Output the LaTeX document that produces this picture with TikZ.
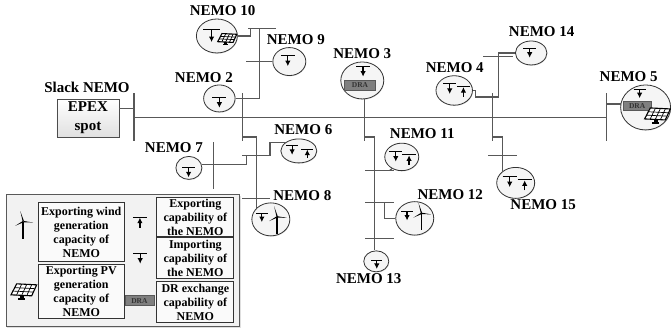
\documentclass[tikz,border=0pt]{standalone}
\usepackage{fontspec}
\setmainfont{Liberation Serif}
\usetikzlibrary{arrows.meta, shapes.geometric, shadows, calc}
\definecolor{linegray}{HTML}{585858}
\definecolor{tagray}{HTML}{7F7F7F}

\begin{document}
\begin{tikzpicture}[
  x=1pt, y=-1pt,
  nemo/.style={ellipse, draw=black!80, fill=black!4, line width=0.8pt, inner sep=0pt, drop shadow={shadow xshift=0.5pt, shadow yshift=-0.8pt, opacity=0.25}},
  lbl/.style={font=\fontsize{15}{17}\selectfont\bfseries, text=black, inner sep=0pt},
  vbus/.style={rectangle, fill=linegray, inner sep=0pt, minimum width=1.2pt},
  hbus/.style={rectangle, fill=linegray, inner sep=0pt, minimum height=1.2pt},
  link/.style={draw=linegray, line width=1.2pt},
  legbox/.style={rectangle, draw=black!80, fill=black!2, line width=0.9pt, inner sep=0pt, align=center, minimum width=77pt, font=\fontsize{12}{14}\selectfont\bfseries},
  dra/.style={rectangle, draw=black!65, fill=tagray, line width=0.8pt, inner sep=0pt, minimum width=29pt, minimum height=10pt, font=\fontsize{7.5}{8}\selectfont\bfseries, text=black!80},
  impo/.pic={
    \draw[black, line width=1pt] (-7,0) -- (7,0);
    \draw[black, line width=1.2pt, -{Latex[length=5.5pt, width=5.5pt]}] (0,0) -- (0,10.5);
  },
  expo/.pic={
    \draw[black, line width=1pt] (-7,0) -- (7,0);
    \draw[black, line width=1.2pt, -{Latex[length=5.5pt, width=5.5pt]}] (0,10.5) -- (0,0.5);
  },
  wind/.pic={
    \draw[black, line width=1.9pt] (0,0) -- (0,17);
    \fill[black] (-0.6,0) -- (-3,-10.5) -- (0.7,-0.4) -- cycle;
    \fill[black] (0,-0.7) -- (9.8,1) -- (0,0.7) -- cycle;
    \fill[black] (-0.4,-0.6) -- (-8,4.2) -- (0.4,0.6) -- cycle;
  },
  panel/.pic={
    \draw[black, line width=1.1pt, fill=white] (-7.3,-6) -- (12.7,-5) -- (7.7,6) -- (-13,5) -- cycle;
    \draw[black, line width=0.7pt] (-9.8,-2.2) -- (10.6,-1.2) (-11.5,1.2) -- (9,2.2);
    \draw[black, line width=0.7pt] (-2.2,-5.8) -- (-7.5,5.3) (2.8,-5.5) -- (-2.3,5.5) (7.8,-5.3) -- (2.8,5.8);
    \fill[black] (-4,6) rectangle (0,9.5);
    \fill[black] (-5.5,8.5) rectangle (1.5,10);
  }
]
  % Legend
  \node[rectangle, draw=black!65, fill=black!5, line width=0.9pt, minimum width=234pt, minimum height=132pt, drop shadow={shadow xshift=0.8pt, shadow yshift=-0.8pt, opacity=0.25}] (legend) at (123,261) {};
  \node[legbox, minimum width=85.5pt, minimum height=59pt] (legwind) at (81.3,232.5) {Exporting wind\\generation\\capacity of\\NEMO};
  \node[legbox, minimum width=85.5pt, minimum height=54pt] (legpv) at (81.3,292) {Exporting PV\\generation\\capacity of\\NEMO};
  \node[legbox, minimum height=39pt] (legexp) at (195.5,217.5) {Exporting\\capability of\\the NEMO};
  \node[legbox, minimum height=41pt] (legimp) at (195.5,258.5) {Importing\\capability of\\the NEMO};
  \node[legbox, minimum height=41pt] (legdr) at (195.5,302.5) {DR exchange\\capability of\\NEMO};
  \node[dra] (legdra) at (139.5,301) {DRA};
  \pic at (23.3,221.7) {wind};
  \pic at (24,290) {panel};
  \pic at (140,217.3) {expo};
  \pic at (140.3,253.3) {impo};

  % Nodes
  \node[rectangle, draw=black!70, top color=white, bottom color=black!12, line width=0.8pt, minimum width=62pt, minimum height=38pt, inner sep=0pt, align=center, font=\fontsize{15}{19}\selectfont\bfseries, drop shadow={shadow xshift=0.8pt, shadow yshift=-0.8pt, opacity=0.25}] (epex) at (88,118) {EPEX\\spot};

  \node[vbus, minimum height=48pt] (bus1) at (134,117.5) {};
  \node[vbus, minimum height=48pt] (bus2) at (243,117.5) {};
  \node[vbus, minimum height=24pt] (bus3) at (365,129.5) {};
  \node[vbus, minimum height=48pt] (bus4) at (493,117.5) {};
  \node[vbus, minimum height=48pt] (bus5) at (607,117.5) {};
  \node[vbus, minimum height=47pt] (bus7) at (214,165.5) {};
  \node[hbus, minimum width=28pt] (bus10) at (262,28.5) {};
  \node[hbus, minimum width=18pt] (bus9) at (255,61.6) {};
  \node[hbus, minimum width=28pt] (bus6) at (256,155.6) {};
  \node[hbus, minimum width=28pt] (bus8) at (256,199) {};
  \node[hbus, minimum width=29pt] (bus11) at (379.5,170.5) {};
  \node[hbus, minimum width=29pt] (bus12) at (379.5,203) {};
  \node[hbus, minimum width=29pt] (bus13) at (379.5,239) {};
  \node[hbus, minimum width=30pt] (bus14) at (498,56.6) {};
  \node[hbus, minimum width=29pt] (bus15) at (502.5,155.6) {};

  \coordinate (t10) at (260,28.5);
  \coordinate (a10) at (251,28.5);
  \coordinate (j8) at (256.5,137);
  \coordinate (j8b) at (256.5,208.5);
  \coordinate (j6) at (286,142.5);
  \coordinate (j7) at (247,155.6);
  \coordinate (j3) at (374.5,137);
  \coordinate (j11) at (390,170.5);
  \coordinate (j12) at (385,203);
  \coordinate (j4) at (475.7,97);
  \coordinate (j14) at (499,53);
  \coordinate (j15) at (503,137);
  \coordinate (j15b) at (503,172);

  \node[nemo, minimum width=41pt, minimum height=34pt] (nemo10) at (217,36) {};
  \node[nemo, minimum width=33pt, minimum height=28pt] (nemo9) at (289.5,61.6) {};
  \node[nemo, minimum width=31.5pt, minimum height=27pt] (nemo2) at (219.5,98.5) {};
  \node[nemo, minimum width=36pt, minimum height=24pt] (nemo6) at (299,151) {};
  \node[nemo, minimum width=26pt, minimum height=23pt] (nemo7) at (189,168) {};
  \node[nemo, minimum width=43pt, minimum height=37pt] (nemo3) at (362.5,80.5) {};
  \node[nemo, minimum width=36.5pt, minimum height=29.5pt] (nemo4) at (454.5,90.5) {};
  \node[nemo, minimum width=31.5pt, minimum height=24pt] (nemo14) at (531.5,53) {};
  \node[nemo, minimum width=50pt, minimum height=45pt] (nemo5) at (646,107.5) {};
  \node[nemo, minimum width=34pt, minimum height=27.5pt] (nemo11) at (402,157) {};
  \node[nemo, minimum width=38pt, minimum height=33.5pt] (nemo12) at (415,218.5) {};
  \node[nemo, minimum width=25pt, minimum height=21pt] (nemo13) at (376.5,261.5) {};
  \node[nemo, minimum width=38pt, minimum height=31pt] (nemo15) at (516,183) {};
  \node[nemo, minimum width=38pt, minimum height=33pt] (nemo8) at (271,219.5) {};

  % Labels
  \node[lbl] (lblslack) at (87,87.5) {Slack NEMO};
  \node[lbl] (lbl10) at (222.7,11) {NEMO 10};
  \node[lbl] (lbl9) at (296,39.5) {NEMO 9};
  \node[lbl] (lbl2) at (204,77.5) {NEMO 2};
  \node[lbl] (lbl7) at (174,148) {NEMO 7};
  \node[lbl] (lbl6) at (303.5,130) {NEMO 6};
  \node[lbl] (lbl3) at (362.5,53.5) {NEMO 3};
  \node[lbl] (lbl4) at (455,67.5) {NEMO 4};
  \node[lbl] (lbl14) at (542,32) {NEMO 14};
  \node[lbl] (lbl5) at (629,77) {NEMO 5};
  \node[lbl] (lbl11) at (422.5,133.5) {NEMO 11};
  \node[lbl] (lbl12) at (450.5,195) {NEMO 12};
  \node[lbl] (lbl13) at (369,279) {NEMO 13};
  \node[lbl] (lbl8) at (302.5,196) {NEMO 8};
  \node[lbl] (lbl15) at (543.5,205) {NEMO 15};

  % Flows
  \draw[link] (bus1) -- (bus5);
  \draw[link] (epex.east |- 0,108.7) -- (bus1 |- 0,108.7);
  \draw[link] (nemo10.east) -| (a10);
  \draw[link] (nemo2.east) -| (t10);
  \draw[link] (bus9) -- (nemo9);
  \draw[link] (bus2 |- j8) -- (j8) -- (j8b);
  \draw[link] (bus6.east) |- (j6);
  \draw[link] (nemo7.15) -- (bus7 |- nemo7.15) -| (j7);
  \draw[link] (bus3.north) -- (bus3.north |- nemo3.south);
  \draw[link] (bus3 |- j3) -- (j3) -- (j3 |- nemo13.north);
  \draw[link] (j11) -- (nemo11.230);
  \draw[link] (j12) |- (nemo12.west);
  \draw[link] (nemo4.east) -| (j4) -| (j14) -- (nemo14.west);
  \draw[link] (bus4 |- j15) -- (j15) -- (j15b);
  \draw[link] (nemo5.172) -- (bus5 |- nemo5.172);

  % Icons
  \pic[scale=1.2] at (211.7,29.5) {impo};
  \pic[scale=0.74] at (227.5,38) {panel};
  \pic at (288,55.7) {impo};
  \pic at (219.5,97.3) {impo};
  \pic[scale=0.85] at (292.3,146) {impo};
  \pic[scale=0.85] at (307.5,149.3) {expo};
  \pic[scale=0.9] at (188.7,168) {impo};
  \pic[scale=0.95] at (363.3,66.7) {impo};
  \node[dra, minimum width=31pt, minimum height=10.4pt] (dra3) at (360.2,85.5) {DRA};
  \pic[scale=0.95] at (450,84) {impo};
  \pic[scale=0.95] at (463.7,86.7) {expo};
  \pic[scale=0.9] at (530,48.3) {impo};
  \pic[scale=0.85] at (640,89.3) {impo};
  \node[dra, minimum width=28.4pt, minimum height=9.4pt] (dra5) at (637.5,106) {DRA};
  \pic at (658,114) {panel};
  \pic[scale=0.95] at (396,151.7) {impo};
  \pic[scale=0.95] at (409.3,155) {expo};
  \pic[scale=0.85] at (407.3,211.7) {impo};
  \pic at (421.7,213.5) {wind};
  \pic[scale=0.8] at (377,260.7) {impo};
  \pic[scale=1.0] at (510,176.7) {impo};
  \pic[scale=1.0] at (525,180) {expo};
  \pic[scale=0.85] at (262,213.3) {impo};
  \pic at (277.3,217) {wind};

  \useasboundingbox (0,0) rectangle (671,332);
\end{tikzpicture}
\end{document}
